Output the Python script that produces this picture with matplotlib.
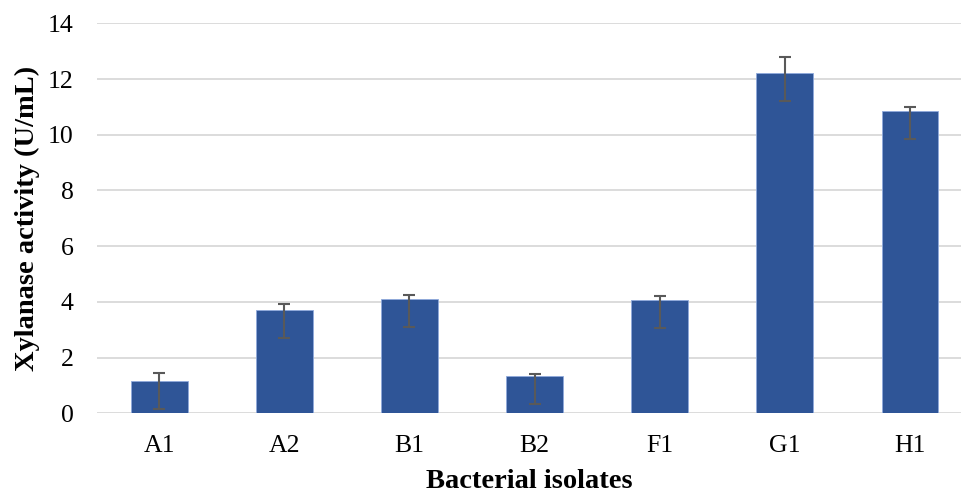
import matplotlib
matplotlib.use("Agg")
import matplotlib.pyplot as plt
import numpy as np

categories = ["A1", "A2", "B1", "B2", "F1", "G1", "H1"]
activity = [1.15, 3.72, 4.10, 1.33, 4.08, 12.22, 10.85]
err_low = [1.0, 1.0, 1.0, 1.0, 1.0, 1.0, 1.0]
err_high = [0.28, 0.21, 0.15, 0.08, 0.13, 0.56, 0.15]
yticks = [0, 2, 4, 6, 8, 10, 12, 14]

plt.rcParams['font.family'] = ['Liberation Serif', 'DejaVu Serif']

W, H = 961, 494
fig = plt.figure(figsize=(W / 100, H / 100), dpi=100)
left, right = 96.7 / W, 1.0
bottom, top = 1 - 413.3 / H, 1 - 23.4 / H
ax = fig.add_axes([left, bottom, right - left, top - bottom])

x = np.arange(len(categories))
ax.bar(x, activity, width=0.454, color="#2F5597", edgecolor="#8FAADC", linewidth=0.6, zorder=2)
ax.errorbar(x, activity, yerr=[err_low, err_high], fmt="none", ecolor="#595959",
            elinewidth=1.5, capsize=4.3, capthick=1.5, zorder=3)

ax.set_xlim(-0.5, 6.408)
ax.set_ylim(0, 14)
ax.set_yticks(yticks)
ax.set_xticks(x)
ax.set_xticklabels(categories)
ax.yaxis.grid(True, color="#D9D9D9", linewidth=1.3, zorder=0)
ax.set_axisbelow(True)
for s in ax.spines.values():
    s.set_visible(False)
ax.tick_params(axis="both", length=0, labelsize=18.5, colors="black")
ax.tick_params(axis="y", pad=16.5)
ax.tick_params(axis="x", pad=15.5)

ax.set_ylabel("Xylanase activity (U/mL)", fontsize=20.5, fontweight="bold")
ax.set_xlabel("Bacterial isolates", fontsize=20.5, fontweight="bold")
ax.yaxis.set_label_coords(-0.0656, 0.5)
ax.xaxis.set_label_coords(0.5, -0.142)

fig.savefig("out.png", dpi=100)
